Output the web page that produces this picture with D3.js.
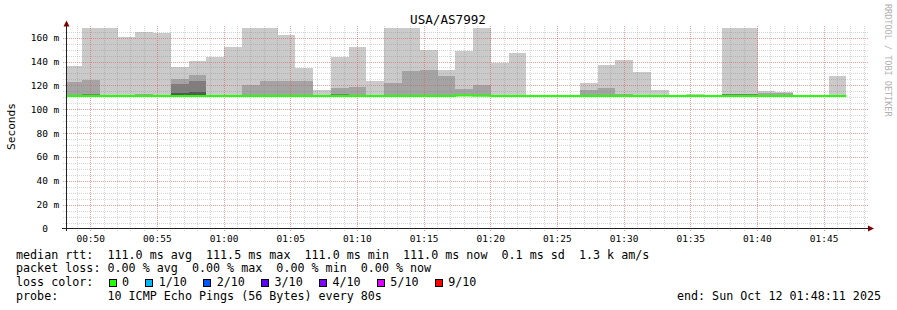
<!DOCTYPE html>
<html>
<head>
<meta charset="utf-8">
<script src="https://cdn.jsdelivr.net/npm/d3@7"></script>
<style>
body { margin: 0; background: #fff; }
svg { display: block; }
text { font-family: "DejaVu Sans Mono", monospace; fill: #000; white-space: pre; }
</style>
</head>
<body>
<svg id="chart" width="897" height="310"></svg>
<script>
// values, one per 80 s step (step i ends at firstStepEnd + 80*i)
var stepSec = 80;
var firstStepEnd = new Date(2025, 9, 12, 0, 49, 23);
var graphStart = new Date(2025, 9, 12, 0, 48, 11);
var graphEnd = new Date(2025, 9, 12, 1, 48, 11);

// median rtt (ms)
var medianRtt = [111, 111, 111, 111, 111, 111, 111, 111, 111, 111,
                 111, 111, 111, 111, 111, 111, 111, 111, 111, 111,
                 111, 111, 111.5, 111.3, 111, 111, 111, 111, 111, 111,
                 111, 111, 111, 111, 111, 111, 111, 111, 111, 111,
                 111, 111, 111, 111];

// smoke: upper edge of each band (outer band = slowest ping ... inner bands)
var smokeBand1 = [136, 168, 168, 160.4, 164.9, 163.8, 135.3, 140.3, 143.9, 152.3,
                  168, 168, 162.1, 134.7, 116, 143.6, 152, 123.5, 168, 168,
                  149.5, 132.7, 148.7, 168, 138.6, 147, 111.6, 111.6, 111.6, 121.8,
                  136.9, 141.1, 131.1, 116, 112, 112.6, 111.3, 168, 168, 115.1,
                  114.3, 111.3, 111.3, 127.7];
var smokeBand2 = [122.7, 124.6, 111, 111, 112.6, 111, 125.2, 128.6, 111, 111,
                  120.4, 123.8, 123.8, 123.8, 112, 117.6, 118.8, 111, 121.8, 131.9,
                  132.7, 127.7, 116.8, 120.2, 111, 111, 111, 111, 111, 116,
                  117.6, 112.6, 111.6, 111, 111, 112, 111, 112.6, 112.6, 113.5,
                  113.5, 111, 111, 111];
var smokeBand3 = [111, 112.6, 111, 111, 111, 111, 121, 123.5, 111, 111,
                  111, 111, 111, 111, 111, 112.6, 111, 111, 111, 111,
                  111, 111, 111, 111, 111, 111, 111, 111, 111, 111,
                  111, 111, 111, 111, 111, 111, 111, 112.4, 112.4, 111,
                  111, 111, 111, 111];
var smokeBand4 = [111, 111, 111, 111, 111, 111, 113.5, 114.3, 111, 111,
                  111, 111, 111, 111, 111, 111, 111, 111, 111, 111,
                  111, 111, 111, 111, 111, 111, 111, 111, 111, 111,
                  111, 111, 111, 111, 111, 111, 111, 111, 111, 111,
                  111, 111, 111, 111];
var bandColors = ["#cacaca", "#a4a4a4", "#7e7e7e", "#585858"];

var yTickValues = [0, 20, 40, 60, 80, 100, 120, 140, 160];
var lossLabels = ["0", "1/10", "2/10", "3/10", "4/10", "5/10", "9/10"];
var lossColors = ["#26ff00", "#00b8ff", "#0059ff", "#5e00ff", "#7e00ff", "#dd00ff", "#ff0000"];

var svg = d3.select("#chart");

var x = d3.scaleTime().domain([graphStart, graphEnd]).range([66, 866]);
var y = d3.scaleLinear().domain([0, 168.1]).range([228.5, 28]);

function stepStart(i) { return new Date(firstStepEnd.getTime() + (i - 1) * stepSec * 1000); }
function stepEnd(i) { return new Date(firstStepEnd.getTime() + i * stepSec * 1000); }

svg.append("clipPath").attr("id", "plotclip")
  .append("rect").attr("x", 66).attr("y", 28).attr("width", 800).attr("height", 201);

// smoke
var smoke = svg.append("g").attr("clip-path", "url(#plotclip)").attr("shape-rendering", "crispEdges");
[smokeBand1, smokeBand2, smokeBand3, smokeBand4].forEach(function (band, b) {
  smoke.selectAll(null)
    .data(band)
    .enter()
    .append("rect")
    .attr("x", function (d, i) { return x(stepStart(i)); })
    .attr("width", function (d, i) { return x(stepEnd(i)) - x(stepStart(i)); })
    .attr("y", function (d) { return y(d); })
    .attr("height", function (d, i) { return Math.max(0, y(medianRtt[i]) - y(d)); })
    .attr("fill", bandColors[b]);
});

// grid
var minorCol = "rgba(128,128,128,0.32)", majorCol = "rgba(255,80,80,0.42)";
var grid = svg.append("g").attr("shape-rendering", "crispEdges");
var minorX = d3.timeMinute.every(1).range(graphStart, graphEnd);
var majorX = d3.timeMinute.every(5).range(graphStart, graphEnd);
grid.selectAll(".mx").data(minorX).enter().append("line")
  .attr("x1", function (d) { return Math.round(x(d)) + 0.5; })
  .attr("x2", function (d) { return Math.round(x(d)) + 0.5; })
  .attr("y1", 26).attr("y2", 231)
  .attr("stroke", minorCol).attr("stroke-dasharray", "1,1");
grid.selectAll(".my").data(d3.range(5, 168, 5)).enter().append("line")
  .attr("x1", 63).attr("x2", 868)
  .attr("y1", function (d) { return Math.round(y(d)) + 0.5; })
  .attr("y2", function (d) { return Math.round(y(d)) + 0.5; })
  .attr("stroke", minorCol).attr("stroke-dasharray", "1,1");
grid.selectAll(".Mx").data(majorX).enter().append("line")
  .attr("x1", function (d) { return Math.round(x(d)) + 0.5; })
  .attr("x2", function (d) { return Math.round(x(d)) + 0.5; })
  .attr("y1", 26).attr("y2", 231)
  .attr("stroke", majorCol).attr("stroke-dasharray", "1,1");
grid.selectAll(".My").data(yTickValues.slice(1)).enter().append("line")
  .attr("x1", 63).attr("x2", 868)
  .attr("y1", function (d) { return Math.round(y(d)) + 0.5; })
  .attr("y2", function (d) { return Math.round(y(d)) + 0.5; })
  .attr("stroke", majorCol).attr("stroke-dasharray", "1,1");

// median line
var medPts = medianRtt.map(function (v, i) { return [i === 0 ? graphStart : stepStart(i), v]; });
medPts.push([stepEnd(medianRtt.length - 1), medianRtt[medianRtt.length - 1]]);
var medLine = d3.line()
  .x(function (d) { return x(d[0]); })
  .y(function (d) { return y(d[1]); })
  .curve(d3.curveStepAfter);
svg.append("path")
  .attr("d", medLine(medPts))
  .attr("fill", "none")
  .attr("stroke", lossColors[0])
  .attr("stroke-width", 2);

// axes
var xAxis = svg.append("g")
  .attr("transform", "translate(0,228.5)")
  .call(d3.axisBottom(x).ticks(d3.timeMinute.every(5)).tickFormat(d3.timeFormat("%H:%M")).tickSize(0).tickPadding(7));
xAxis.select(".domain").remove();
xAxis.selectAll("text").attr("font-family", "DejaVu Sans Mono").attr("font-size", "9.5px");

var yAxis = svg.append("g")
  .attr("transform", "translate(66,0)")
  .call(d3.axisLeft(y).tickValues(yTickValues).tickSize(0).tickPadding(6.7)
    .tickFormat(function (d) { return d === 0 ? "0  " : d + " m"; }));
yAxis.select(".domain").remove();
yAxis.selectAll("text").attr("font-family", "DejaVu Sans Mono").attr("font-size", "9.5px")
  .attr("xml:space", "preserve");

svg.append("line").attr("x1", 62).attr("x2", 868).attr("y1", 228.5).attr("y2", 228.5)
  .attr("stroke", "#222").attr("stroke-width", 1);
svg.append("line").attr("x1", 66.5).attr("x2", 66.5).attr("y1", 231).attr("y2", 25)
  .attr("stroke", "#222").attr("stroke-width", 1);
svg.append("path").attr("d", "M63.5,26.5L69.5,26.5L66.5,20.5Z").attr("fill", "#7f0000");
svg.append("path").attr("d", "M868,225.5L868,231.5L874,228.5Z").attr("fill", "#7f0000");

// titles
svg.append("text").attr("x", 448).attr("y", 24).attr("text-anchor", "middle")
  .attr("font-family", "DejaVu Sans").attr("font-size", "12.6px").text("USA/AS7992");
svg.append("text").attr("transform", "translate(15,126.5) rotate(-90)").attr("text-anchor", "middle")
  .attr("font-family", "DejaVu Sans").attr("font-size", "11.2px").text("Seconds");
svg.append("text").attr("transform", "translate(885,4) rotate(90)")
  .attr("font-size", "8.5px").style("fill", "#b0b0b0").text("RRDTOOL / TOBI OETIKER");

// legend
var fmt = d3.format(".1f");
var medAvg = d3.mean(medianRtt), medMax = d3.max(medianRtt), medMin = d3.min(medianRtt);
var medNow = medianRtt[medianRtt.length - 1];
var legend = svg.append("g").attr("font-size", "11.7px");
function legendText(xx, yy, s) {
  return legend.append("text").attr("xml:space", "preserve").attr("x", xx).attr("y", yy).text(s);
}
legendText(16, 258.5, "median rtt:  " + fmt(medAvg) + " ms avg  " + fmt(medMax) + " ms max  " +
  fmt(medMin) + " ms min  " + fmt(medNow) + " ms now  0.1 ms sd  1.3 k am/s");
legendText(16, 272.4, "packet loss: 0.00 % avg  0.00 % max  0.00 % min  0.00 % now");
legendText(16, 286.3, "loss color:");
var bx = 108.7;
lossLabels.forEach(function (lab, i) {
  legend.append("rect").attr("x", Math.round(bx) + 0.5).attr("y", 279.5).attr("width", 7).attr("height", 7)
    .attr("fill", lossColors[i]).attr("stroke", "#000").attr("shape-rendering", "crispEdges");
  legendText(bx + 13.3, 286.3, lab);
  bx += 13.3 + lab.length * 7.05 + 16.4;
});
legendText(16, 300.2, "probe:       10 ICMP Echo Pings (56 Bytes) every 80s");
legendText(881, 300.2, "end: " + d3.timeFormat("%a %b %d %H:%M:%S %Y")(graphEnd)).attr("text-anchor", "end");
</script>
</body>
</html>
